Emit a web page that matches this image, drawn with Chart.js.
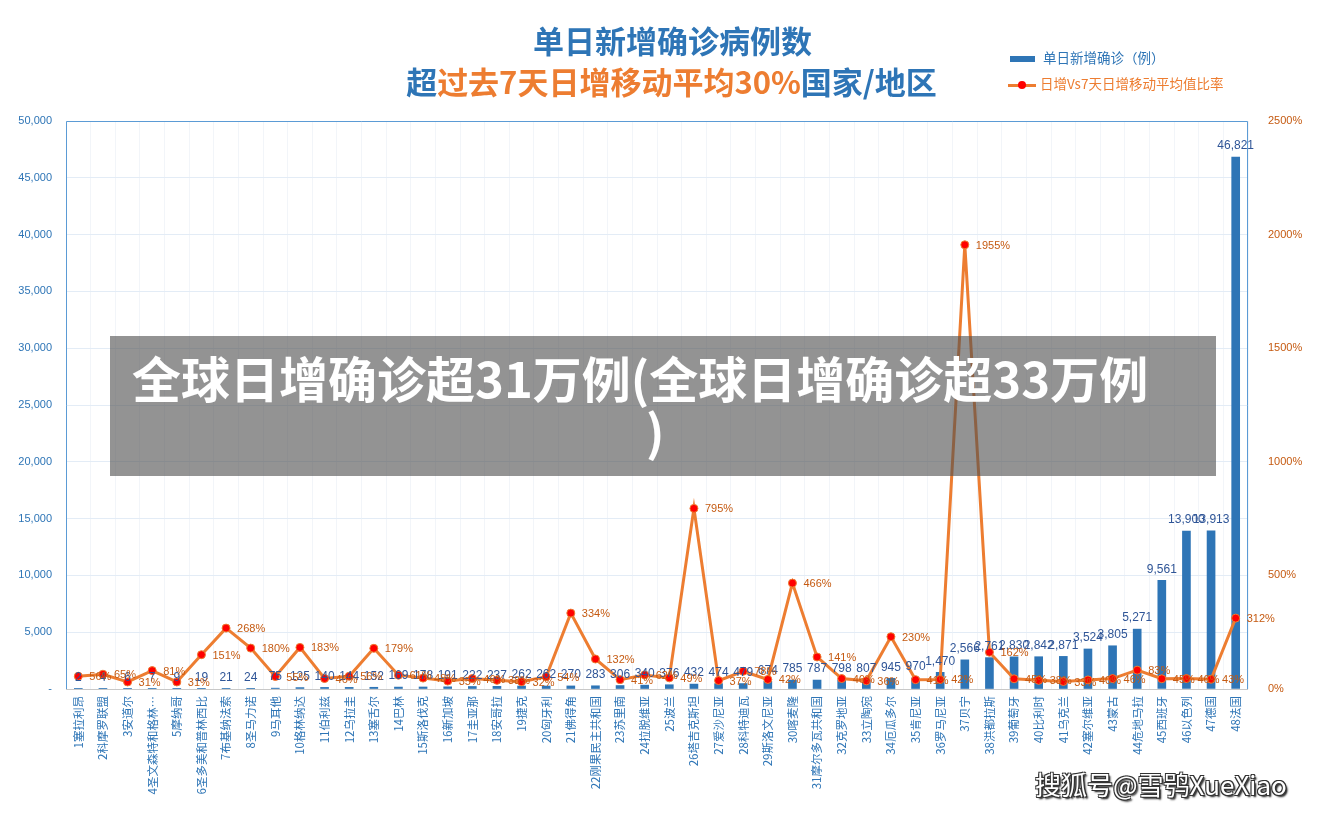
<!DOCTYPE html>
<html>
<head>
<meta charset="utf-8">
<script src="https://cdn.jsdelivr.net/npm/chart.js@4.4.1/dist/chart.umd.min.js"></script>
<style>
  body { margin: 0; background: #fff; font-family: "Noto Sans CJK SC", sans-serif; }
  #wrap { position: relative; width: 1327px; height: 813px; overflow: hidden; }
  #c { position: absolute; left: 0; top: 0; }
  .t1, .t2 { position: absolute; left: 0; width: 1327px; text-align: center; font-weight: bold; font-size: 31px; color: #2e75b6; line-height: 40px; }
  .t1 { top: 20px; padding-left: 18px; box-sizing: border-box; }
  .t2 { top: 61px; padding-left: 16px; box-sizing: border-box; }
  .t2 .o { color: #ed7d31; }
  .lg { position: absolute; font-size: 13.5px; line-height: 18px; }
  .band { position: absolute; left: 110px; top: 336px; width: 1106px; height: 140px; background: rgba(80,80,80,0.62); }
  .band div { position: absolute; white-space: nowrap; color: #fff; font-weight: bold; font-size: 49px; line-height: 52px; }
  .wm { position: absolute; left: 1035px; top: 765px; font-size: 26px; color: #fff; text-shadow: -1px -1px 0 #333, 1px -1px 0 #333, -1px 1px 0 #333, 1px 1px 0 #333, 2px 2px 2px #000; }
</style>
</head>
<body>
<div id="wrap">
  <canvas id="c" width="1327" height="813"></canvas>
  <div class="t1">单日新增确诊病例数</div>
  <div class="t2">超<span class="o">过去7天日增移动平均30%</span>国家/地区</div>
  <div class="lg" style="left:1010px;top:48px;color:#2e75b6;"><span style="display:inline-block;width:25px;height:6px;background:#2e75b6;vertical-align:middle;margin-right:8px;"></span>单日新增确诊（例）</div>
  <div class="lg" style="left:1008px;top:74px;color:#ed7d31;"><span style="display:inline-block;position:relative;width:28px;height:3px;background:#ed7d31;vertical-align:middle;margin-right:4px;"><span style="position:absolute;left:10px;top:-3px;width:8px;height:8px;border-radius:50%;background:#ff0000;"></span></span>日增Vs7天日增移动平均值比率</div>
  <div class="band">
    <div style="left:22px;top:15px;">全球日增确诊超31万例(全球日增确诊超33万例</div>
    <div style="left:536px;top:68px;">)</div>
  </div>
  <div class="wm">搜狐号@雪鸮XueXiao</div>
</div>
<script>
const countries = ['1塞拉利昂','2科摩罗联盟','3安道尔','4圣文森特和格林…','5摩纳哥','6圣多美和普林西比','7布基纳法索','8圣马力诺','9马耳他','10格林纳达','11伯利兹','12乌拉圭','13塞舌尔','14巴林','15斯洛伐克','16新加坡','17圭亚那','18安哥拉','19捷克','20匈牙利','21佛得角','22刚果民主共和国','23苏里南','24拉脱维亚','25波兰','26塔吉克斯坦','27爱沙尼亚','28科特迪瓦','29斯洛文尼亚','30喀麦隆','31摩尔多瓦共和国','32克罗地亚','33立陶宛','34厄瓜多尔','35肯尼亚','36罗马尼亚','37贝宁','38洪都拉斯','39葡萄牙','40比利时','41乌克兰','42塞尔维亚','43蒙古','44危地马拉','45西班牙','46以色列','47德国','48法国'];
const dailyCases = [2,4,6,7,9,19,21,24,75,125,140,144,152,169,178,191,222,237,262,262,270,283,306,340,376,432,474,479,674,785,787,798,807,945,970,1470,2566,2761,2830,2842,2871,3524,3805,5271,9561,13900,13913,46821];
const ratioPct = [56,65,31,81,31,151,268,180,55,183,46,56,179,61,48,35,46,38,32,54,334,132,41,62,49,795,37,78,42,466,141,46,36,230,41,42,1955,162,45,38,33,40,46,83,45,46,43,312];
const leftTicks = [0,5000,10000,15000,20000,25000,30000,35000,40000,45000,50000];
const rightTicks = [0,500,1000,1500,2000,2500];

const numFont = '"Liberation Sans Narrow", "Arial Narrow", "Liberation Sans", sans-serif';

const frame = {
  id: 'frame',
  beforeDatasetsDraw(chart) {
    const a = chart.chartArea, ctx = chart.ctx;
    ctx.save();
    ctx.lineWidth = 1;
    ctx.strokeStyle = '#5b9bd5';
    ctx.beginPath();
    ctx.moveTo(a.left + 0.5, a.bottom);
    ctx.lineTo(a.left + 0.5, a.top + 0.5);
    ctx.lineTo(a.right - 0.5, a.top + 0.5);
    ctx.lineTo(a.right - 0.5, a.bottom);
    ctx.stroke();
    ctx.strokeStyle = '#c8c8c8';
    ctx.beginPath();
    ctx.moveTo(a.left, a.bottom + 0.5);
    ctx.lineTo(a.right, a.bottom + 0.5);
    ctx.stroke();
    ctx.restore();
  }
};

const valueLabels = {
  id: 'valueLabels',
  afterDatasetsDraw(chart) {
    const ctx = chart.ctx;
    ctx.save();
    const bars = chart.getDatasetMeta(0).data;
    ctx.font = '12px ' + numFont;
    ctx.fillStyle = '#2f5597';
    ctx.textAlign = 'center';
    ctx.textBaseline = 'bottom';
    bars.forEach((b, i) => {
      ctx.fillText(dailyCases[i].toLocaleString('en-US'), b.x, b.y - 5);
    });
    const pts = chart.getDatasetMeta(1).data;
    ctx.fillStyle = '#c55a11';
    ctx.textAlign = 'left';
    ctx.textBaseline = 'middle';
    ctx.font = '11px ' + numFont;
    pts.forEach((p, i) => {
      ctx.fillText(ratioPct[i] + '%', p.x + 11, p.y + 1);
    });
    ctx.restore();
  }
};

new Chart(document.getElementById('c'), {
  type: 'bar',
  data: {
    labels: countries,
    datasets: [
      {
        type: 'bar',
        label: '单日新增确诊（例）',
        data: dailyCases,
        backgroundColor: '#2e75b6',
        barThickness: 8,
        yAxisID: 'y',
        order: 1
      },
      {
        type: 'line',
        label: '日增Vs7天日增移动平均值比率',
        data: ratioPct,
        borderColor: '#ed7d31',
        borderWidth: 3,
        pointRadius: 4,
        pointBackgroundColor: '#ff0000',
        pointBorderColor: '#ed7d31',
        pointBorderWidth: 1,
        tension: 0,
        yAxisID: 'y1',
        order: 0
      }
    ]
  },
  options: {
    responsive: false,
    animation: false,
    layout: { padding: { top: 121, left: 0, right: 0, bottom: 0 } },
    plugins: { legend: { display: false }, tooltip: { enabled: false } },
    scales: {
      x: {
        grid: { color: '#f2f5f9', drawTicks: false },
        border: { display: false },
        ticks: {
          minRotation: 90, maxRotation: 90, autoSkip: false, padding: 7,
          color: '#2e75b6',
          font: { family: '"Noto Sans CJK SC", sans-serif', size: 11.5 }
        },
        afterFit(s) { s.height = 124; }
      },
      y: {
        position: 'left',
        min: 0, max: 50000,
        afterBuildTicks(s) { s.ticks = leftTicks.map(v => ({ value: v })); },
        grid: { color: '#e3ecf6', drawTicks: false },
        border: { display: false },
        ticks: {
          padding: 14,
          color: '#2e75b6',
          font: { family: '"Liberation Sans", sans-serif', size: 11 },
          callback: v => v === 0 ? '-' : v.toLocaleString('en-US')
        },
        afterFit(s) { s.width = 66; }
      },
      y1: {
        position: 'right',
        min: 0, max: 2500,
        afterBuildTicks(s) { s.ticks = rightTicks.map(v => ({ value: v })); },
        grid: { display: false },
        border: { display: false },
        ticks: {
          padding: 12,
          color: '#c55a11',
          font: { family: '"Liberation Sans", sans-serif', size: 11 },
          callback: v => v + '%'
        },
        afterFit(s) { s.width = 79; }
      }
    }
  },
  plugins: [frame, valueLabels]
});
</script>
</body>
</html>
